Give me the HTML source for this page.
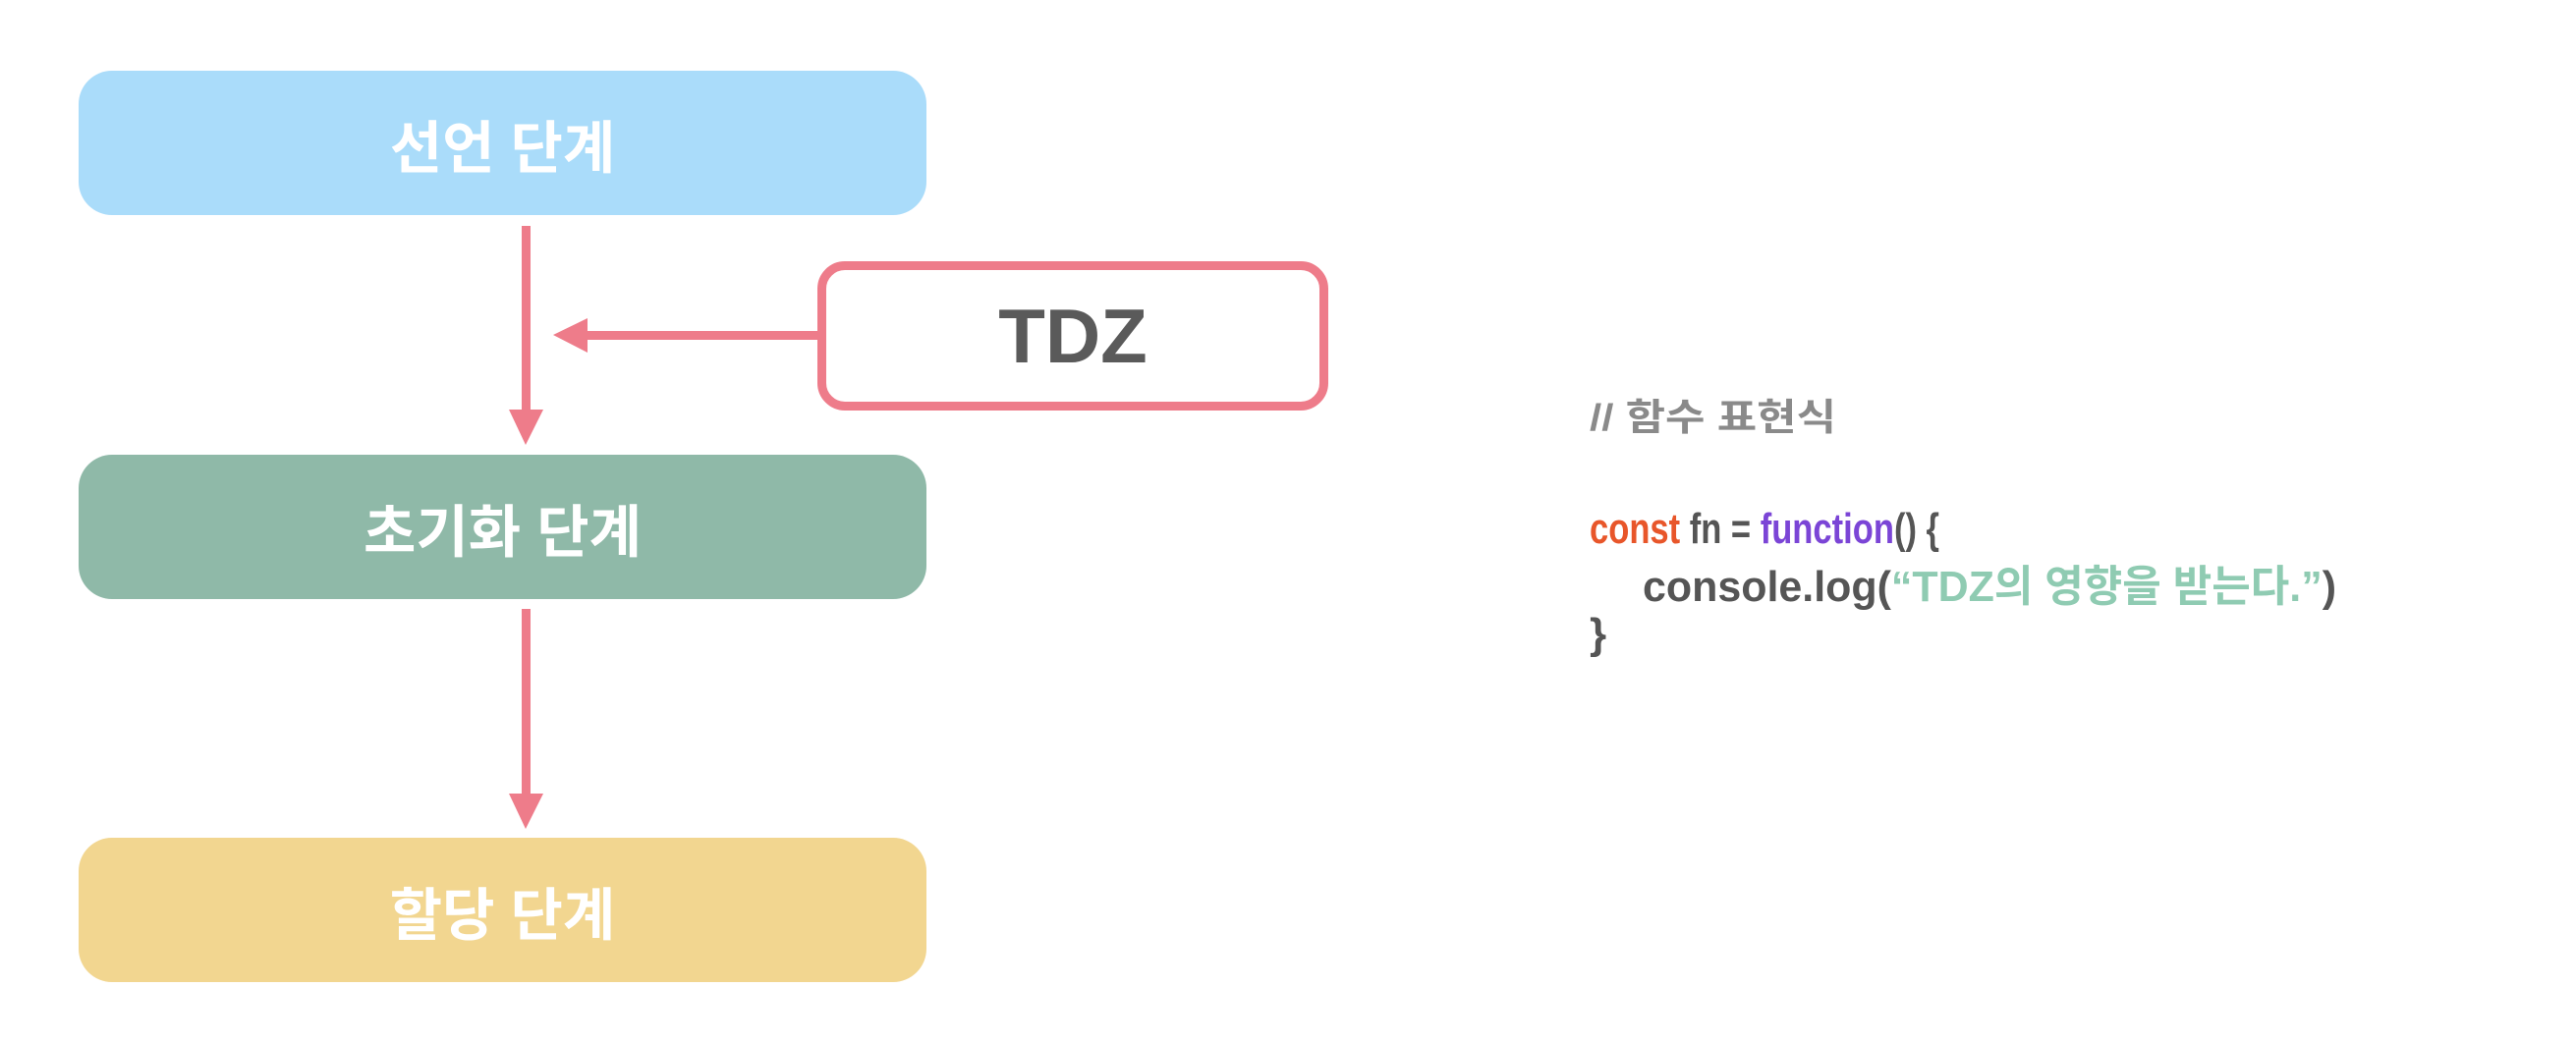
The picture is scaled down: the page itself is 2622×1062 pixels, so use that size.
<!DOCTYPE html>
<html><head><meta charset="utf-8"><style>
html,body{margin:0;padding:0;background:#fff;}
body{width:2622px;height:1062px;position:relative;overflow:hidden;}
.box{position:absolute;left:80px;width:863px;height:147px;border-radius:34px;color:#fff;font-family:"Liberation Sans","Noto Sans CJK KR",sans-serif;font-weight:bold;font-size:58px;display:flex;align-items:center;justify-content:center;}
</style></head><body>
<div class="box" style="top:72px;background:#aadcfa;">선언 단계</div>
<div class="box" style="top:463px;background:#8fb9a8;">초기화 단계</div>
<div class="box" style="top:853px;background:#f2d690;">할당 단계</div>
<div style="position:absolute;left:832px;top:266px;width:502px;height:134px;border:9px solid #ee7c8a;border-radius:28px;display:flex;align-items:center;justify-content:center;font-family:'Liberation Sans',sans-serif;font-weight:bold;font-size:78px;color:#5a5a5a;">TDZ</div>
<svg width="2622" height="1062" style="position:absolute;left:0;top:0" xmlns="http://www.w3.org/2000/svg">
<g fill="#ee7c8a">
<rect x="531" y="230" width="9" height="190"/>
<polygon points="518,417 553,417 535,453"/>
<rect x="531" y="620" width="9" height="190"/>
<polygon points="518,808 553,808 535,844"/>
<rect x="596" y="337" width="240" height="9"/>
<polygon points="598,324 598,359 563,341"/>
</g>
<g font-family="'Liberation Sans','Noto Sans CJK KR',sans-serif" font-weight="bold">
<text x="1618" y="438" font-size="38" fill="#8a8a8a" textLength="251" lengthAdjust="spacingAndGlyphs">// 함수 표현식</text>
<text x="1618" y="553" font-size="44" textLength="356" lengthAdjust="spacingAndGlyphs" fill="#555"><tspan fill="#e8562a">const</tspan> fn = <tspan fill="#7b45d6">function</tspan>() {</text>
<text x="1672" y="612" font-size="44" textLength="706" lengthAdjust="spacingAndGlyphs" fill="#555">console.log(<tspan fill="#8fcbb2">“TDZ의 영향을 받는다.”</tspan>)</text>
<text x="1618" y="660" font-size="44" fill="#555">}</text>
</g>
</svg>
</body></html>
